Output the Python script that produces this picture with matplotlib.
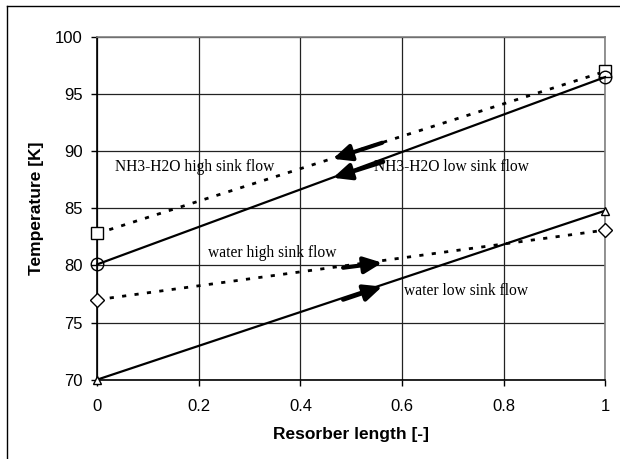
import matplotlib.pyplot as plt
from matplotlib.lines import Line2D

# data
x = [0, 1]
nh3_high = [82.8, 97.0]
nh3_low = [80.1, 96.5]
water_high = [77.0, 83.1]
water_low = [70.0, 84.8]

labels = ['NH3-H2O high sink flow', 'NH3-H2O low sink flow',
          'water high sink flow', 'water low sink flow']
# arrow tail / tip in data units
arrow_tail = [(0.561, 90.75), (0.563, 89.08), (0.484, 79.80), (0.484, 77.0)]
arrow_tip = [(0.464, 89.34), (0.464, 87.68), (0.561, 80.24), (0.561, 78.15)]
label_pos = [(0.035, 88.6), (0.545, 88.6), (0.218, 81.1), (0.603, 77.75)]

fig = plt.figure(figsize=(6.2, 4.59), dpi=100)
ax = fig.add_axes([0.157, 0.173, 0.819, 0.746])

ax.plot(x, nh3_high, color='black', lw=2, ls=(0, (1.5, 3)), marker='s',
        mfc='white', mec='black', ms=9, mew=1, clip_on=False, zorder=5)
ax.plot(x, nh3_low, color='black', lw=1.6, marker='o',
        mfc='none', mec='black', ms=9, mew=1, clip_on=False, zorder=5)
ax.plot(x, water_high, color='black', lw=2, ls=(0, (1.5, 3)), marker='D',
        mfc='white', mec='black', ms=7, mew=1, clip_on=False, zorder=5)
ax.plot(x, water_low, color='black', lw=1.6, marker='^',
        mfc='white', mec='black', ms=6, mew=1, clip_on=False, zorder=5)

for tail, tip in zip(arrow_tail, arrow_tip):
    ax.annotate('', xy=tip, xytext=tail,
                arrowprops=dict(arrowstyle='-|>,head_length=1.1,head_width=0.5',
                                color='black', lw=3, shrinkA=0, shrinkB=0),
                zorder=6)

for lab, (lx, ly) in zip(labels, label_pos):
    ax.text(lx, ly, lab, family='Liberation Serif', fontsize=11.2,
            ha='left', va='center', zorder=7)

ax.set_xlim(0, 1)
ax.set_ylim(70, 100)
ax.set_xticks([0, 0.2, 0.4, 0.6, 0.8, 1])
ax.set_xticklabels(['0', '0.2', '0.4', '0.6', '0.8', '1'])
ax.set_yticks([70, 75, 80, 85, 90, 95, 100])
ax.grid(True, color='#222222', lw=0.9)
ax.set_axisbelow(True)

ax.spines['left'].set_color('black')
ax.spines['bottom'].set_color('black')
ax.spines['top'].set_color('#808080')
ax.spines['right'].set_color('#808080')
for s in ax.spines.values():
    s.set_linewidth(1.2)

ax.tick_params(direction='out', length=4, width=1, labelsize=12)
ax.tick_params(axis='y', pad=6.5)
ax.tick_params(axis='x', pad=10)
for t in ax.get_xticklabels() + ax.get_yticklabels():
    t.set_family('Liberation Sans')

ax.set_xlabel('Resorber length [-]', family='Liberation Sans', fontsize=12.5,
              fontweight='bold', labelpad=9)
ax.set_ylabel('Temperature [K]', family='Liberation Sans', fontsize=12.5,
              fontweight='bold', labelpad=8)

# outer frame (top and left edges visible)
fig.add_artist(Line2D([7 / 620, 7 / 620], [0, 1 - 6 / 459],
                      transform=fig.transFigure, color='black', lw=1))
fig.add_artist(Line2D([7 / 620, 1], [1 - 6 / 459, 1 - 6 / 459],
                      transform=fig.transFigure, color='black', lw=1))

fig.savefig('out.png', dpi=100)
